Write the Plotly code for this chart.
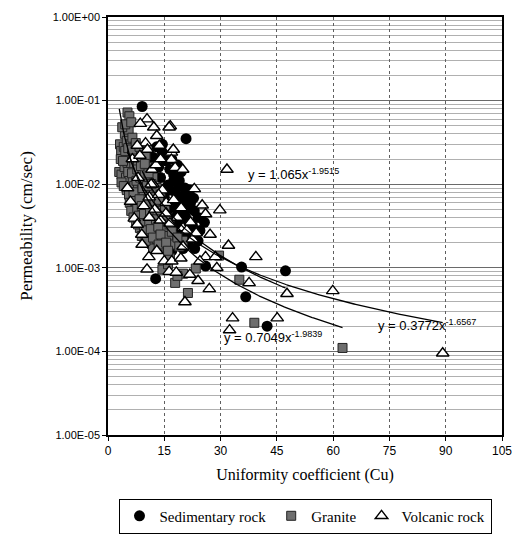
import numpy as np
import plotly.graph_objects as go

# Uniformity coefficient (Cu) and permeability (cm/sec) per rock type
sed_cu = [9.1, 20.8, 13.0, 14.5, 12.0, 15.5, 13.5, 16.5, 11.0, 17.5, 14.0, 19.0, 10.0, 16.0,
          20.5, 12.5, 18.0, 21.0, 15.0, 20.0, 22.0, 17.0, 21.5, 19.0, 23.0, 14.0, 20.5, 16.0,
          25.7, 18.5, 22.5, 13.0, 17.0, 20.0, 15.0, 19.0, 23.1, 20.0, 17.0, 11.5, 26.0, 12.7,
          35.6, 36.7, 47.3, 42.4,
          14.5, 12.5, 15.0, 17.0, 18.5, 19.5, 17.5, 18.8, 21.8, 16.5, 19.8, 18.0, 22.8, 16.5,
          18.5, 21.0, 24.0, 15.5, 19.5, 21.5, 24.5, 18.0, 22.0, 16.0, 21.0, 14.0, 24.0]
sed_k = [0.085, 0.035, 0.028, 0.024, 0.021, 0.019, 0.016, 0.015, 0.014, 0.013, 0.012, 0.011,
         0.010, 0.0098, 0.0090, 0.0085, 0.0080, 0.0075, 0.0070, 0.0065, 0.0060, 0.0058, 0.0052,
         0.0050, 0.0048, 0.0045, 0.0042, 0.0040, 0.0035, 0.0034, 0.0032, 0.0030, 0.0028, 0.0025,
         0.0023, 0.0021, 0.0017, 0.0017, 0.0016, 0.0019, 0.00105, 0.00074, 0.00102, 0.00045,
         0.00092, 0.00020,
         0.030, 0.018, 0.022, 0.020, 0.017, 0.014, 0.011, 0.0095, 0.0085, 0.0085, 0.0072,
         0.0062, 0.0068, 0.0052, 0.0044, 0.0038, 0.0040, 0.0034, 0.0030, 0.0027, 0.0028,
         0.0024, 0.0022, 0.0020, 0.0019, 0.0018, 0.0021]

gra_cu = [5.2, 5.7, 4.5, 5.5, 3.2, 3.5, 4.2, 5.0, 6.0, 6.5, 7.2, 4.8, 5.8, 6.8, 7.8, 3.0, 3.6,
          4.4, 5.2, 6.2, 7.0, 8.0, 9.0, 10.0, 4.8, 5.6, 6.6, 7.5, 8.5, 9.5, 11.0, 5.0, 6.0, 7.0,
          8.0, 9.0, 10.5, 12.0, 6.0, 7.0, 8.2, 9.5, 11.0, 13.0, 6.5, 7.5, 8.8, 10.0, 12.0, 14.0,
          7.0, 8.0, 9.5, 11.0, 13.0, 7.5, 8.8, 10.0, 12.0, 14.5, 8.5, 10.0, 11.5, 13.5, 9.0, 10.5,
          12.5, 15.0, 11.0, 13.0, 16.0, 12.0, 14.5, 17.5, 20.0, 14.5, 16.0, 17.9, 21.3, 23.4,
          20.0, 29.6, 35.0, 39.0, 62.5, 18.5, 16.5,
          3.8, 4.6, 6.2, 3.4, 4.0, 4.6, 5.4, 6.4, 7.4, 8.4, 3.6, 4.2, 5.4, 6.4, 7.8, 8.8, 9.8,
          5.6, 6.8, 7.6, 8.6, 9.8, 10.8, 5.8, 7.2, 8.4, 9.2, 10.4, 11.6, 6.2, 7.8, 9.0, 10.6,
          12.4, 13.6, 6.8, 8.2, 9.6, 11.2, 13.2, 15.2, 8.0, 9.4, 11.0, 12.8, 15.6, 9.6, 11.4,
          13.4, 16.4, 10.0, 12.0, 14.0, 17.0, 13.5, 15.5, 18.5, 16.0, 19.0]
gra_k = [0.072, 0.065, 0.040, 0.045, 0.030, 0.025, 0.028, 0.033, 0.030, 0.036, 0.028, 0.022,
         0.024, 0.021, 0.024, 0.014, 0.013, 0.016, 0.018, 0.016, 0.017, 0.018, 0.020, 0.022,
         0.012, 0.011, 0.012, 0.013, 0.014, 0.015, 0.016, 0.0085, 0.0090, 0.0095, 0.0100,
         0.0105, 0.0110, 0.0120, 0.0068, 0.0072, 0.0075, 0.0080, 0.0085, 0.0090, 0.0055,
         0.0058, 0.0060, 0.0065, 0.0070, 0.0075, 0.0045, 0.0048, 0.0050, 0.0052, 0.0056,
         0.0036, 0.0038, 0.0040, 0.0042, 0.0045, 0.0030, 0.0031, 0.0033, 0.0035, 0.0024,
         0.0026, 0.0027, 0.0030, 0.0021, 0.0022, 0.0024, 0.0017, 0.0018, 0.0019, 0.0021,
         0.00095, 0.0011, 0.00066, 0.00050, 0.00098, 0.00085, 0.0014, 0.00072, 0.00022,
         0.00011, 0.0008, 0.0013,
         0.048, 0.052, 0.055, 0.020, 0.019, 0.025, 0.027, 0.026, 0.031, 0.028, 0.0105, 0.0095,
         0.0140, 0.0135, 0.0150, 0.0165, 0.0175, 0.0075, 0.0080, 0.0110, 0.0120, 0.0130,
         0.0135, 0.0060, 0.0063, 0.0066, 0.0090, 0.0095, 0.0100, 0.0048, 0.0052, 0.0055,
         0.0058, 0.0062, 0.0065, 0.0040, 0.0042, 0.0044, 0.0046, 0.0048, 0.0052, 0.0033,
         0.0034, 0.0036, 0.0038, 0.0040, 0.0028, 0.0029, 0.0031, 0.0033, 0.0021, 0.0023,
         0.0025, 0.0027, 0.0019, 0.0020, 0.0023, 0.0016, 0.0018]

vol_cu = [16.6, 31.7, 16.9, 16.9, 17.9, 19.9, 23.0, 25.1, 26.0, 29.8, 27.2, 32.1, 5.2, 7.0,
          10.4, 8.6, 12.2, 13.0, 16.3, 13.7, 10.0, 17.4, 7.8, 11.7, 12.8, 7.8, 9.1, 10.9, 10.4,
          13.0, 15.0, 17.0, 19.4, 16.3, 18.2, 26.0, 29.0, 21.8, 24.0, 27.0, 20.5, 28.6, 33.2,
          32.4, 39.4, 37.6, 47.7, 59.9, 45.1, 89.2, 9.5, 11.0, 14.5, 15.5, 18.5, 20.0, 8.0,
          12.0, 14.0, 21.0, 22.5, 6.0, 9.0, 24.5,
          6.5, 8.5, 10.5, 14.0, 11.5, 13.5, 15.5, 17.5, 19.5, 22.0, 12.5, 16.5, 23.5, 20.0, 11.0]
vol_k = [0.0495, 0.015, 0.024, 0.0197, 0.0158, 0.015, 0.0088, 0.0056, 0.0044, 0.0049, 0.0025,
         0.00185, 0.0090, 0.0039, 0.060, 0.053, 0.048, 0.038, 0.048, 0.029, 0.031, 0.026,
         0.029, 0.015, 0.017, 0.0033, 0.0019, 0.00135, 0.00096, 0.0016, 0.0012, 0.0012,
         0.0013, 0.0009, 0.00088, 0.00135, 0.0010, 0.00083, 0.0007, 0.00056, 0.00039,
         0.00135, 0.00025, 0.00018, 0.00135, 0.00066, 0.00049, 0.00053, 0.00025, 0.000095,
         0.0055, 0.0070, 0.0085, 0.0060, 0.0040, 0.0030, 0.0120, 0.0100, 0.0037, 0.0028,
         0.0022, 0.0062, 0.0025, 0.0012,
         0.020, 0.022, 0.026, 0.020, 0.010, 0.0075, 0.0045, 0.0065, 0.0052, 0.0035, 0.0050,
         0.0034, 0.0026, 0.0018, 0.0040]

# Power-law trend lines: y = a * x^b
sed_fit = (1.065, -1.9515)
gra_fit = (0.7049, -1.9839)
vol_fit = (0.3772, -1.6567)

x_ticks = [0, 15, 30, 45, 60, 75, 90, 105]
y_ticks = [1, 1e-1, 1e-2, 1e-3, 1e-4, 1e-5]
y_tick_text = ["1.00E+00", "1.00E-01", "1.00E-02", "1.00E-03", "1.00E-04", "1.00E-05"]

SERIF = "Liberation Serif"
SANS = "Liberation Sans"

fig = go.Figure()

fig.add_trace(go.Scatter(
    x=sed_cu, y=sed_k, mode="markers", name="Sedimentary rock", legendrank=1,
    marker=dict(symbol="circle", size=11, color="black", line=dict(color="black", width=0))))
fig.add_trace(go.Scatter(
    x=gra_cu, y=gra_k, mode="markers", name="Granite", legendrank=2,
    marker=dict(symbol="square", size=9, color="#6e6e6e", line=dict(color="#222222", width=1))))
fig.add_trace(go.Scatter(
    x=vol_cu, y=vol_k, mode="markers", name="Volcanic rock", legendrank=3,
    marker=dict(symbol="triangle-up", size=11, color="white", line=dict(color="black", width=1.4))))


def trend(xs, fit):
    a, b = fit
    xx = np.linspace(min(xs), max(xs), 200)
    return xx, a * xx ** b


for xs, fit in [(sed_cu, sed_fit), (gra_cu, gra_fit), (vol_cu, vol_fit)]:
    tx, ty = trend(xs, fit)
    fig.add_trace(go.Scatter(x=tx, y=ty, mode="lines", showlegend=False, hoverinfo="skip",
                             line=dict(color="black", width=1.3)))


def eq_text(fit):
    a, b = fit
    return f"y = {a:g}x<sup>{b:g}</sup>"


labels = [(36.8, 0.0132, sed_fit), (30.3, 1.48e-4, gra_fit), (71.3, 2.05e-4, vol_fit)]
for lx, ly, fit in labels:
    fig.add_annotation(x=lx, y=np.log10(ly), text=eq_text(fit), showarrow=False,
                       xanchor="left", yanchor="middle",
                       font=dict(family=SANS, size=13, color="black"))

fig.update_layout(
    width=523, height=545,
    margin=dict(l=108, r=11, t=17, b=95),
    paper_bgcolor="white", plot_bgcolor="white",
    font=dict(family=SERIF, color="black"),
    showlegend=True,
    legend=dict(orientation="h", x=0.5, xanchor="center", y=-0.152, yanchor="top",
                bordercolor="black", borderwidth=1, bgcolor="white",
                font=dict(family=SERIF, size=15, color="black"),
                itemwidth=30, tracegroupgap=0),
)

fig.update_xaxes(
    range=[0, 105], tickvals=x_ticks, ticks="outside", ticklen=4, tickcolor="black",
    showline=True, linecolor="black", linewidth=1.5, mirror=True,
    showgrid=True, gridcolor="#5f5f5f", gridwidth=1, griddash="dot",
    zeroline=False,
    tickfont=dict(family=SANS, size=12, color="black"),
    title=dict(text="Uniformity coefficient (Cu)", standoff=12,
               font=dict(family=SERIF, size=16, color="black")),
)

fig.update_yaxes(
    type="log", range=[-5, 0], tickvals=y_ticks, ticktext=y_tick_text,
    ticks="outside", ticklen=4, tickcolor="black",
    showline=True, linecolor="black", linewidth=1.5, mirror=True,
    showgrid=True, gridcolor="#6a6a6a", gridwidth=1,
    minor=dict(dtick="D1", showgrid=True, gridcolor="#b0b0b0", gridwidth=1, ticks=""),
    zeroline=False,
    tickfont=dict(family=SANS, size=11, color="black"),
    title=dict(text="Permeability (cm/sec)", standoff=16,
               font=dict(family=SERIF, size=17, color="black")),
)

fig.write_html("out.html")
